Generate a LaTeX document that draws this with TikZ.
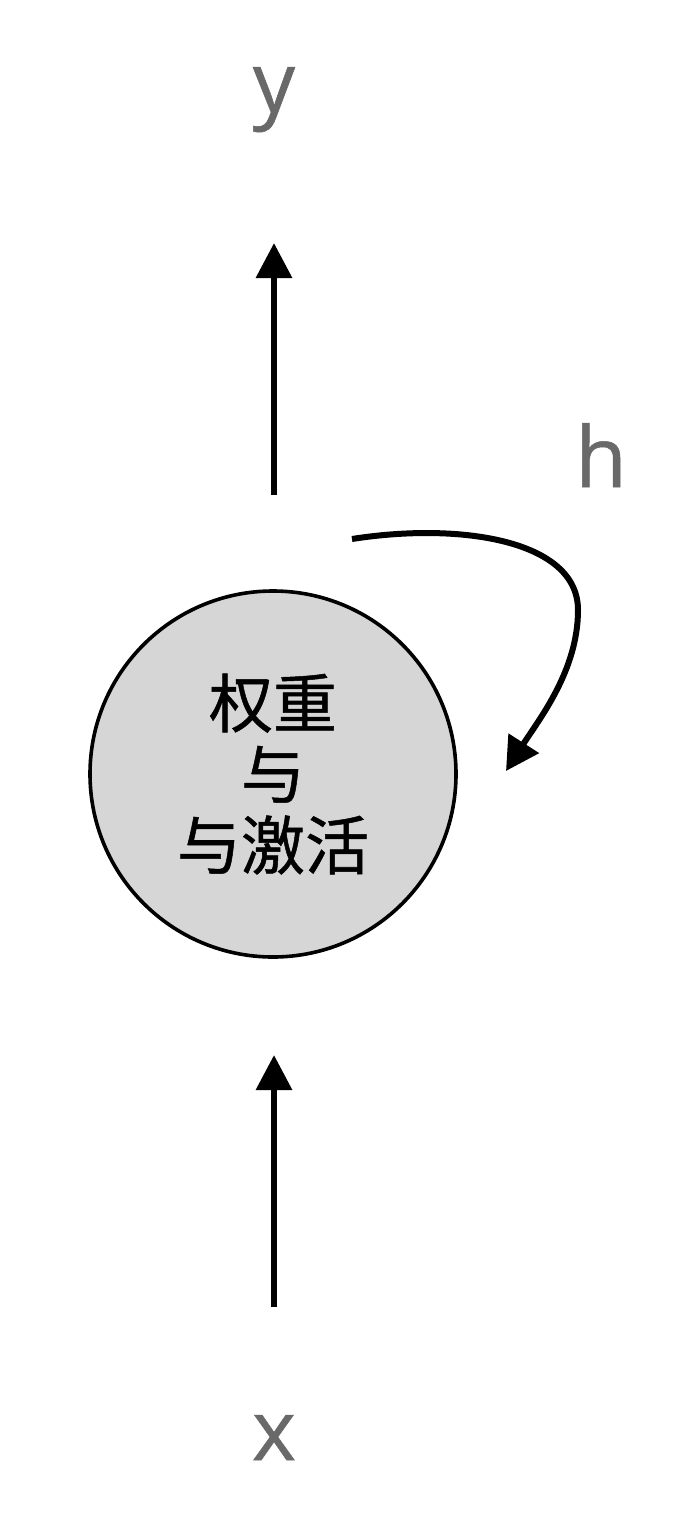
\documentclass[tikz,border=0pt]{standalone}
\usepackage{fontspec}
\setmainfont{Open Sans}
\newfontfamily\lblfont[FakeBold=0.6]{Open Sans}
\newfontfamily\cjk[FakeBold=0.8]{Noto Sans CJK SC}
\usetikzlibrary{arrows.meta}
\definecolor{lblgray}{HTML}{696969}
\definecolor{cellfill}{HTML}{D6D6D6}
\tikzset{
  flowarrow/.style={line width=6.3pt,-{Triangle[length=35pt,width=35pt]}},
  looparrow/.style={line width=6pt,-{Triangle[length=33pt,width=35pt]}},
  lbl/.style={text=lblgray,font=\lblfont\fontsize{84}{90}\selectfont,inner sep=0pt},
  cellnode/.style={circle,draw=black,line width=3.6pt,fill=cellfill,minimum size=366pt,inner sep=0pt,
     align=center,font=\cjk\fontsize{64}{71}\selectfont}
}
\begin{document}
\begin{tikzpicture}[x=1pt,y=-1pt]
\useasboundingbox[fill=white] (0,0) rectangle (688,1525);
\node[cellnode] (cell) at (273,774) {权重\\与\\与激活};
\node[lbl,anchor=base] (ylbl) at (274,112) {y};
\node[lbl,anchor=base] (hlbl) at (601,487) {h};
\node[lbl,anchor=base] (xlbl) at (274,1460) {x};
\coordinate (ys) at (274,495);
\coordinate (ye) at (274,243);
\coordinate (xs) at (274,1307);
\coordinate (xe) at (274,1055);
\coordinate (hs) at (352,539);
\coordinate (hm) at (578,610);
\coordinate (he) at (506,771);
\draw[flowarrow] (xs) -- (xe);
\draw[flowarrow] (ys) -- (ye);
\draw[looparrow] (hs) .. controls (460,522) and (578,540) .. (hm)
  .. controls (578,670) and (540,718) .. (he);
\end{tikzpicture}
\end{document}
